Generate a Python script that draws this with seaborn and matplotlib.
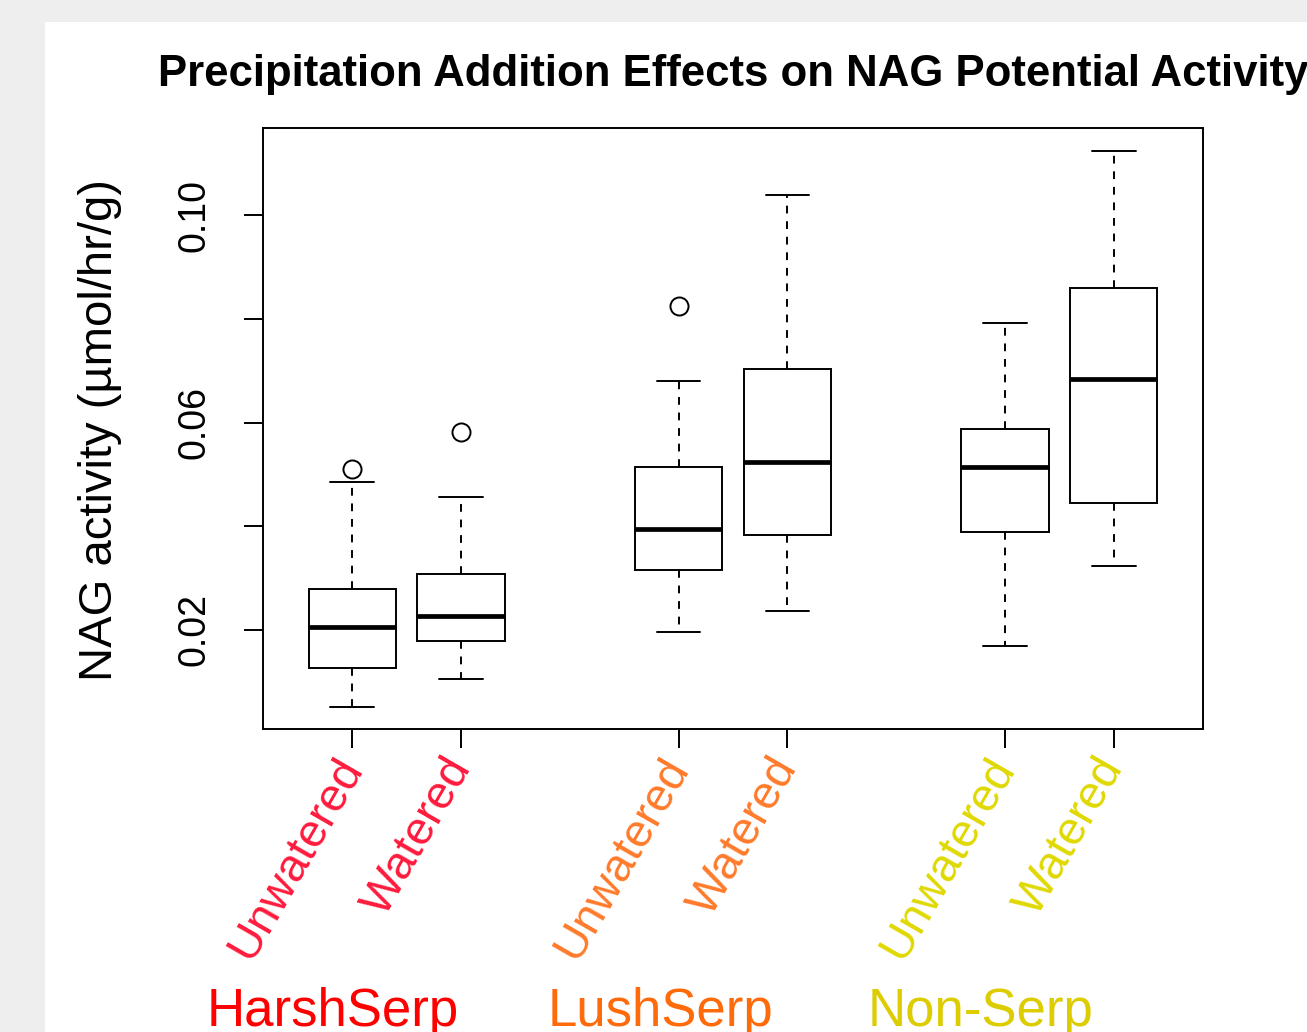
import pandas as pd
import matplotlib.pyplot as plt
import matplotlib.transforms as mtransforms
from matplotlib.patches import Rectangle
import seaborn as sns

sns.set_style("ticks")
plt.rcParams['font.family'] = ['Liberation Sans', 'DejaVu Sans']
plt.rcParams['text.color'] = 'black'
plt.rcParams['xtick.color'] = 'black'
plt.rcParams['ytick.color'] = 'black'

# box statistics
sites = ["HarshSerp", "HarshSerp", "LushSerp", "LushSerp", "Non-Serp", "Non-Serp"]
treatments = ["Unwatered", "Watered", "Unwatered", "Watered", "Unwatered", "Watered"]
positions = [1, 2, 4, 5, 7, 8]
whisker_lo = [0.0052, 0.0105, 0.0197, 0.0236, 0.0169, 0.0323]
q1 = [0.0127, 0.0178, 0.0316, 0.0384, 0.0388, 0.0444]
median = [0.0206, 0.0226, 0.0395, 0.0523, 0.0515, 0.0683]
q3 = [0.0279, 0.0308, 0.0514, 0.0704, 0.0588, 0.0860]
whisker_hi = [0.0485, 0.0456, 0.0680, 0.1039, 0.0791, 0.1124]
outliers = [[0.0511], [0.0581], [0.0825], [], [], []]

group_names = ["HarshSerp", "LushSerp", "Non-Serp"]
group_colors = ["#ff0000", "#ff6a0a", "#dccc00"]
group_offsets = [-0.68, -0.67, -0.72]
label_colors = ["#ff1a3c", "#ff1a3c", "#ff7a2a", "#ff7a2a", "#e0d800", "#e0d800"]

# long table: repeating the read values reproduces the quartiles exactly
rows = []
for i in range(len(positions)):
    vals = [whisker_lo[i], q1[i], q1[i], median[i], median[i], q3[i], q3[i], whisker_hi[i]] + outliers[i]
    for v in vals:
        rows.append({"pos": positions[i], "site": sites[i], "treatment": treatments[i], "nag": v})
df = pd.DataFrame(rows)

fig = plt.figure(figsize=(13.07, 10.32), dpi=100)
fig.patch.set_facecolor("#eeeeee")
fig.patches.append(Rectangle((45 / 1307, 0), 1, 1 - 22 / 1032, transform=fig.transFigure,
                             facecolor="white", edgecolor="none", zorder=-1))

ax = fig.add_axes([263 / 1307, 303 / 1032, 940 / 1307, 601 / 1032])
sns.boxplot(data=df, x="pos", y="nag", native_scale=True, orient="x", ax=ax,
            width=0.8, color="white", linecolor="black", linewidth=1.4, saturation=1,
            whiskerprops={"linestyle": (0, (4, 4)), "linewidth": 1.4},
            medianprops={"linewidth": 3.4, "color": "black"},
            capprops={"linewidth": 1.4},
            flierprops={"marker": "o", "markersize": 13, "markerfacecolor": "none",
                        "markeredgecolor": "black", "markeredgewidth": 1.4})

ax.set_xlim(0.18, 8.82)
ax.set_ylim(0.0009, 0.1168)
ax.set_xlabel("")
ax.set_ylabel("")
for s in ax.spines.values():
    s.set_linewidth(1.4)
    s.set_color("black")
    s.set_visible(True)

ax.set_yticks([0.02, 0.04, 0.06, 0.08, 0.10])
ax.set_yticklabels(["0.02", "", "0.06", "", "0.10"], rotation=90, va="center", fontsize=27)
ax.tick_params(axis="y", length=14, width=1.4, pad=22)

ax.set_xticks(positions)
ax.set_xticklabels(treatments, rotation=60, ha="right", va="center",
                   rotation_mode="anchor", fontsize=33.5)
ax.tick_params(axis="x", length=14, width=1.4, pad=9)
for lbl, c in zip(ax.get_xticklabels(), label_colors):
    lbl.set_color(c)

ax.set_title("Precipitation Addition Effects on NAG Potential Activity",
             fontsize=31.5, fontweight="bold", pad=30, color="black")
fig.text(100 / 1307, 1 - 430 / 1032, "NAG activity (µmol/hr/g)", rotation=90,
         ha="center", va="center", fontsize=34)

# site names below the tick labels
trans = mtransforms.blended_transform_factory(ax.transData, ax.transAxes)
for k, (name, col) in enumerate(zip(group_names, group_colors)):
    center = (positions[2 * k] + positions[2 * k + 1]) / 2
    ax.text(center + group_offsets[k], -0.494, name, color=col, fontsize=38, ha="center",
            va="baseline", transform=trans, clip_on=False)

plt.savefig("out.png", dpi=100, facecolor=fig.get_facecolor())
